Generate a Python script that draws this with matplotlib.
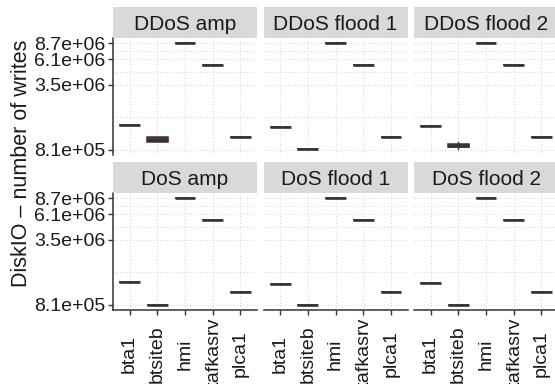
import matplotlib
matplotlib.use("Agg")
import matplotlib.pyplot as plt
import numpy as np
from matplotlib.ticker import FixedLocator, NullFormatter

plt.rcParams['font.family'] = ['Liberation Sans', 'DejaVu Sans']

# 数据
categories = ['bta1', 'btsiteb', 'hmi', 'kafkasrv', 'plca1']
panel_names = ['DDoS amp', 'DDoS flood 1', 'DDoS flood 2',
               'DoS amp', 'DoS flood 1', 'DoS flood 2']

bta1_med = [1.40e6, 1.34e6, 1.36e6, 1.33e6, 1.28e6, 1.31e6]
btsiteb_med = [1.01e6, 8.30e5, 8.85e5, 8.10e5, 8.10e5, 8.10e5]
btsiteb_q1 = [9.60e5, 8.30e5, 8.53e5, 8.10e5, 8.10e5, 8.10e5]
btsiteb_q3 = [1.07e6, 8.30e5, 9.27e5, 8.10e5, 8.10e5, 8.10e5]
btsiteb_lo = [9.60e5, 8.30e5, 8.15e5, 8.10e5, 8.10e5, 8.10e5]
btsiteb_hi = [1.07e6, 8.30e5, 9.60e5, 8.10e5, 8.10e5, 8.10e5]
hmi_med = [8.70e6, 8.70e6, 8.70e6, 8.70e6, 8.70e6, 8.70e6]
kafkasrv_med = [5.37e6, 5.37e6, 5.37e6, 5.37e6, 5.37e6, 5.37e6]
plca1_med = [1.08e6, 1.07e6, 1.07e6, 1.07e6, 1.07e6, 1.07e6]

y_ticks = [8.1e5, 3.45e6, 6.1e6, 8.7e6]
y_labels = ['8.1e+05', '3.5e+06', '6.1e+06', '8.7e+06']

W, H = 555, 384
fig = plt.figure(figsize=(W / 100, H / 100), dpi=100)
fig.patch.set_facecolor('white')

col_left = [113, 263.5, 414]
row_top = [38, 193]
pw, ph, sh = 144, 117, 31
dark = '#333333'
txt = '#1a1a1a'

# log 轴范围 (5% 扩展)
lmin, lmax = np.log10(min(y_ticks)), np.log10(max(y_ticks))
r = lmax - lmin
ylim = (10 ** (lmin - 0.05 * r), 10 ** (lmax + 0.05 * r))
lt = np.log10(y_ticks)
minor = list(10 ** ((lt[:-1] + lt[1:]) / 2))


def flat(v):
    return dict(med=v, q1=v, q3=v, whislo=v, whishi=v)


for i, name in enumerate(panel_names):
    row, col = divmod(i, 3)
    left, top = col_left[col], row_top[row]
    ax = fig.add_axes([left / W, 1 - (top + ph) / H, pw / W, ph / H])
    sax = fig.add_axes([left / W, 1 - top / H, pw / W, sh / H])
    sax.set_facecolor('#d9d9d9')
    sax.set_xticks([])
    sax.set_yticks([])
    for s in sax.spines.values():
        s.set_visible(False)
    sax.text(0.5, 0.45, name, ha='center', va='center', fontsize=15,
             color=txt, transform=sax.transAxes)

    stats = [flat(bta1_med[i]),
             dict(med=btsiteb_med[i], q1=btsiteb_q1[i], q3=btsiteb_q3[i],
                  whislo=btsiteb_lo[i], whishi=btsiteb_hi[i]),
             flat(hmi_med[i]), flat(kafkasrv_med[i]), flat(plca1_med[i])]
    ax.set_yscale('log')
    ax.bxp(stats, positions=range(1, 6), widths=0.75, showfliers=False,
           showcaps=False, patch_artist=True,
           boxprops=dict(facecolor='#5e3434', edgecolor=dark, linewidth=1.1),
           medianprops=dict(color=dark, linewidth=1.9, solid_capstyle='butt'),
           whiskerprops=dict(color=dark, linewidth=1.0))

    ax.set_xlim(0.4, 5.6)
    ax.set_ylim(*ylim)
    ax.yaxis.set_major_locator(FixedLocator(y_ticks))
    ax.yaxis.set_minor_locator(FixedLocator(minor))
    ax.yaxis.set_minor_formatter(NullFormatter())
    ax.set_yticklabels(y_labels if col == 0 else [])
    ax.set_xticks(range(1, 6))
    ax.set_xticklabels(categories if row == 1 else [], rotation=90,
                       va='center', ha='center')
    ax.set_axisbelow(True)
    ax.grid(True, which='major', color='#d9d9d9', linestyle=(0, (1, 2)), linewidth=0.8)
    ax.grid(True, which='minor', axis='y', color='#d9d9d9', linestyle=(0, (1, 2)), linewidth=0.8)
    ax.tick_params(axis='y', which='major', length=3.5 if col == 0 else 0,
                   width=1, color=dark, pad=2, labelsize=14, labelcolor=txt)
    ax.tick_params(axis='y', which='minor', length=0)
    ax.tick_params(axis='x', length=3.5 if row == 1 else 0, width=1,
                   color=dark, pad=28, labelsize=14, labelcolor=txt)
    for k, s in ax.spines.items():
        s.set_color(dark)
        s.set_linewidth(1.1)
        s.set_visible((k == 'left' and col == 0) or (k == 'bottom' and row == 1))

fig.text(22 / W, 1 - 163 / H, 'DiskIO – number of writes', rotation=90,
         ha='center', va='center', fontsize=15.5, color=txt)

fig.savefig('out.png', dpi=100)
